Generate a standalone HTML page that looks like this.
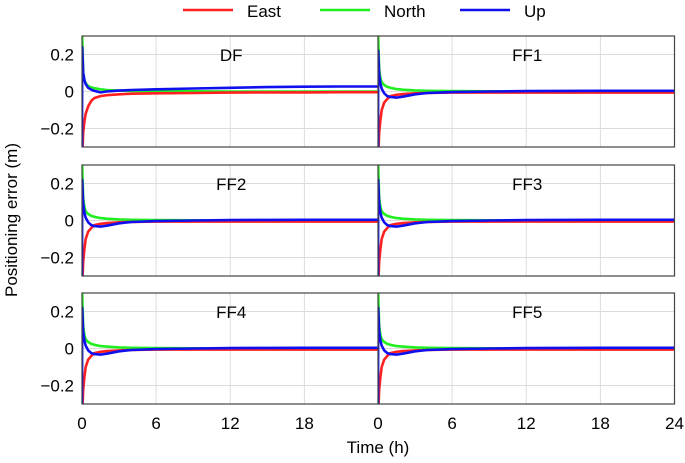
<!DOCTYPE html>
<html><head><meta charset="utf-8"><style>
body{margin:0;background:#fff;}
svg{display:block;font-family:"Liberation Sans",Arial,sans-serif;}
</style></head><body>
<svg id="chart" width="685" height="463" viewBox="0 0 685 463">
<g id="legend">
<g><line x1="183" y1="10" x2="233" y2="10" stroke="#ff2020" stroke-width="2.5"/><text x="247" y="17" font-size="17">East</text></g>
<g><line x1="320" y1="10" x2="370" y2="10" stroke="#20ee20" stroke-width="2.5"/><text x="384" y="17" font-size="17">North</text></g>
<g><line x1="460" y1="10" x2="510" y2="10" stroke="#1010ee" stroke-width="2.5"/><text x="524" y="17" font-size="17">Up</text></g>
</g>
<text transform="translate(17,220) rotate(-90)" text-anchor="middle" font-size="17">Positioning error (m)</text>
<text x="378" y="453" text-anchor="middle" font-size="17">Time (h)</text>
<g id="panels"></g>
</svg>
<script>
const panelNames = ["DF","FF1","FF2","FF3","FF4","FF5"];
const times = [0,0.02,0.1,0.2,0.3,0.5,0.75,1,1.5,2,3,4,6,9,12,15,18,21,24];
const xTicks = [0,6,12,18,24];
const yTicks = [0.2,0,-0.2];
const yTickLabels = ["0.2","0","\u22120.2"];
const eastDF  = [-0.35,-0.35,-0.22,-0.16,-0.12,-0.08,-0.05,-0.035,-0.025,-0.02,-0.015,-0.012,-0.01,-0.008,-0.006,-0.005,-0.005,-0.004,-0.004];
const northDF = [0.35,0.3,0.1,0.06,0.045,0.03,0.022,0.018,0.012,0.008,0.005,0.003,0.002,0.001,0,0,0,0,0];
const upDF    = [-0.35,0.24,0.1,0.06,0.04,0.02,0.01,0.003,-0.005,0.0,0.005,0.008,0.012,0.016,0.02,0.024,0.026,0.027,0.027];
const eastFF  = [-0.35,-0.35,-0.22,-0.15,-0.1,-0.06,-0.04,-0.025,-0.018,-0.014,-0.01,-0.008,-0.006,-0.006,-0.006,-0.006,-0.006,-0.006,-0.006];
const northFF = [0.35,0.3,0.12,0.07,0.05,0.035,0.025,0.02,0.013,0.01,0.006,0.004,0.002,0.001,0.001,0.001,0.001,0.001,0.001];
const upFF    = [-0.35,0.22,0.09,0.04,0.015,-0.01,-0.025,-0.03,-0.033,-0.028,-0.015,-0.008,-0.003,0.0,0.002,0.003,0.004,0.004,0.004];
const eastSeries  = [eastDF,eastFF,eastFF,eastFF,eastFF,eastFF];
const northSeries = [northDF,northFF,northFF,northFF,northFF,northFF];
const upSeries    = [upDF,upFF,upFF,upFF,upFF,upFF];

const NS="http://www.w3.org/2000/svg";
const root=document.getElementById("panels");
const colLeft=[82,378], colW=296.5, rowTop=[36,165,293], rowH=111;
function mk(tag,attrs,parent){const e=document.createElementNS(NS,tag);for(const k in attrs)e.setAttribute(k,attrs[k]);parent.appendChild(e);return e;}
panelNames.forEach((name,i)=>{
  const c=i%2,r=Math.floor(i/2);
  const x0=colLeft[c],y0=rowTop[r];
  const xs=t=>x0+t/24*colW;
  const ys=v=>y0+rowH/2-v/0.6*rowH;
  const g=mk("g",{},root);
  
  
  const cid="clip"+i;
  const cp=mk("clipPath",{id:cid},g);mk("rect",{x:x0,y:y0,width:colW,height:rowH},cp);
  mk("rect",{x:x0,y:y0,width:colW,height:rowH,fill:"#fff"},g);
  xTicks.forEach(t=>{if(t>0&&t<24){const l=mk("line",{x1:xs(t),x2:xs(t),y1:y0,y2:y0+rowH,stroke:"#dcdcdc","stroke-width":1},g);
    }});
  yTicks.forEach((v,k)=>{const l=mk("line",{x1:x0,x2:x0+colW,y1:ys(v),y2:ys(v),stroke:"#dcdcdc","stroke-width":1},g);
    
    if(c===0){const t=mk("text",{x:x0-8,y:ys(v)+6,"text-anchor":"end","font-size":17},g);t.textContent=yTickLabels[k];
      }});
  const title=mk("text",{x:x0+colW/2+1,y:y0+25,"text-anchor":"middle","font-size":17},g);title.textContent=name;
  
  const cg=mk("g",{"clip-path":"url(#"+cid+")"},g);
  [[northSeries[i],"#20ee20","north"],[eastSeries[i],"#ff2020","east"],[upSeries[i],"#1010ee","up"]].forEach(([vals,col,nm])=>{
    const d=vals.map((v,k)=>(k?"L":"M")+xs(times[k]).toFixed(1)+","+ys(v).toFixed(1)).join("");
    const p=mk("path",{d:d,fill:"none",stroke:col,"stroke-width":2.6,"stroke-linejoin":"round"},cg);
    
  });
  const fr=mk("rect",{x:x0,y:y0,width:colW,height:rowH,fill:"none",stroke:"#444","stroke-width":1.2},g);
  
  if(r===2){xTicks.forEach(t=>{if(c===0&&t===24)return;
    const tx=mk("text",{x:xs(t),y:y0+rowH+25,"text-anchor":"middle","font-size":17},g);tx.textContent=String(t);
    });}
});
</script>
</body></html>
